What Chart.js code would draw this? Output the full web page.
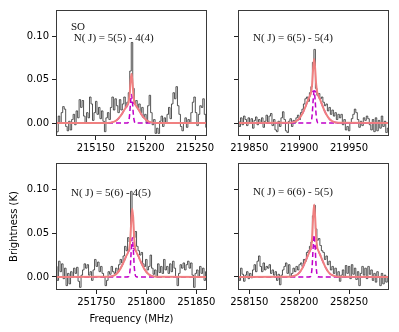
<!DOCTYPE html>
<html lang="en">
<head>
<meta charset="UTF-8">
<title>SO lines</title>
<script src="https://cdn.jsdelivr.net/npm/chart.js"></script>
<style>
  body { margin: 0; background: #fff; }
  #wrap { position: relative; width: 399px; height: 332px; }
  #wrap canvas { position: absolute; left: 0; top: 0; }
</style>
</head>
<body>
<div id="wrap">
  <canvas id="p1" width="399" height="332"></canvas>
  <canvas id="p2" width="399" height="332"></canvas>
  <canvas id="p3" width="399" height="332"></canvas>
  <canvas id="p4" width="399" height="332"></canvas>
</div>
<script>
// channel width of the spectra (MHz)
const CHAN_WIDTH = 1.5;

// ---- panel 1: 5(5)-4(4)
const spec1Start = 215110;
const spec1 = [-0.012, -0.01, 0.008, 0.0, 0.012, 0.019, 0.016, -0.004, -0.009, 0.002,
  -0.008, 0.004, 0.01, -0.002, 0.014, 0.006, 0.027, 0.018, 0.026, 0.008,
  0.0, 0.012, 0.006, 0.03, 0.022, 0.003, 0.012, 0.025, 0.01, 0.018,
  0.005, 0.014, 0.002, -0.01, 0.006, 0.012, 0.004, 0.018, 0.03, 0.015,
  0.028, 0.02, 0.012, 0.027, 0.015, 0.022, 0.03, 0.018, 0.024, 0.035,
  0.06, 0.093, 0.04, 0.022, 0.026, 0.018, 0.022, 0.012, 0.018, 0.006,
  0.01, 0.0, 0.02, 0.032, 0.012, -0.002, 0.004, -0.012, -0.006, -0.012,
  0.002, 0.008, -0.004, 0.006, 0.0, 0.01, 0.018, 0.005, 0.022, 0.035,
  0.028, 0.042, 0.02, 0.01, -0.004, -0.009, 0.0, 0.006, -0.005, 0.004,
  0.0, 0.012, 0.024, 0.03, 0.012, -0.003, 0.01, 0.02, 0.018, 0.028,
  0.01, -0.005];

// ---- panel 2: 6(5)-5(4)
const spec2Start = 219839;
const spec2 = [0.002, -0.004, 0.006, -0.002, 0.008, 0.004, -0.003, 0.006, 0.0, 0.005,
  -0.006, 0.003, 0.007, -0.002, 0.004, 0.0, 0.006, -0.005, 0.002, 0.009,
  0.001, 0.008, 0.011, -0.003, 0.004, -0.008, -0.01, 0.002, -0.004, 0.006,
  0.013, 0.004, -0.009, -0.011, 0.002, 0.005, -0.004, 0.003, 0.0, 0.006,
  0.009, 0.004, 0.012, 0.016, 0.022, 0.028, 0.03, 0.025, 0.035, 0.042,
  0.07, 0.085, 0.04, 0.032, 0.034, 0.028, 0.03, 0.024, 0.02, 0.022,
  0.014, 0.018, 0.01, 0.015, 0.008, 0.012, 0.004, 0.01, 0.006, 0.01,
  -0.002, 0.004, -0.008, -0.004, -0.009, 0.0, 0.005, 0.01, 0.016, 0.012,
  0.004, -0.005, 0.002, -0.003, 0.006, 0.003, 0.008, 0.005, -0.002, -0.008,
  0.004, -0.01, 0.006, -0.009, 0.003, -0.006, 0.008, -0.004, 0.002, -0.011,
  -0.006];

// ---- panel 3: 5(6)-4(5)
const spec3Start = 251710;
const spec3 = [0.012, -0.004, 0.018, 0.006, 0.015, -0.002, 0.01, -0.01, 0.004, -0.008,
  0.006, 0.0, 0.01, 0.004, 0.011, -0.005, -0.012, 0.002, 0.008, 0.015,
  0.01, 0.014, 0.002, 0.006, -0.004, 0.008, 0.02, 0.012, 0.017, 0.006,
  0.012, 0.004, 0.0, -0.01, -0.004, 0.006, 0.003, 0.012, 0.006, 0.004,
  0.01, 0.006, 0.014, 0.02, 0.016, 0.024, 0.035, 0.03, 0.045, 0.04,
  0.098, 0.07, 0.045, 0.052, 0.035, 0.03, 0.025, 0.028, 0.015, 0.012,
  0.02, 0.008, 0.012, 0.025, 0.01, 0.003, 0.008, 0.0, 0.015, 0.005,
  0.012, 0.004, 0.02, 0.008, 0.012, 0.004, 0.015, 0.006, 0.018, 0.01,
  0.0, -0.01, 0.004, 0.014, 0.01, 0.016, 0.008, 0.014, 0.018, 0.01,
  0.016, 0.002, -0.012, 0.004, 0.008, 0.0, 0.012, 0.004, 0.01, -0.004,
  0.006];

// ---- panel 4: 6(6)-5(5)
const spec4Start = 258139;
const spec4 = [0.0, -0.004, 0.01, 0.003, -0.005, 0.002, 0.006, -0.002, 0.004, -0.001,
  0.008, 0.014, 0.006, 0.018, 0.024, 0.012, 0.006, 0.016, 0.008, 0.012,
  0.01, 0.014, 0.004, 0.008, 0.002, 0.006, -0.004, 0.003, -0.009, 0.002,
  0.008, 0.012, 0.016, 0.004, 0.014, 0.0, 0.004, 0.01, 0.006, 0.012,
  0.008, 0.014, 0.016, 0.012, 0.02, 0.018, 0.028, 0.03, 0.035, 0.04,
  0.07, 0.082, 0.055, 0.042, 0.044, 0.036, 0.03, 0.028, 0.02, 0.024,
  0.014, 0.018, 0.008, 0.012, 0.004, 0.01, 0.0, 0.006, -0.005, 0.002,
  0.008, 0.0, 0.013, 0.004, 0.012, -0.002, 0.014, 0.003, 0.01, -0.003,
  0.006, -0.01, 0.004, 0.012, 0.002, 0.01, -0.002, 0.012, 0.003, 0.008,
  -0.004, 0.004, -0.006, 0.006, 0.0, -0.01, 0.004, -0.008, 0.002, -0.006,
  0.0];

// ---- fitted profiles, sampled at offsets (MHz) from each line centre
const fitOffsets = [-80, -24, -18, -15, -12, -10, -8, -6, -4, -3, -2, -1, 0,
  1, 2, 3, 4, 6, 8, 10, 12, 15, 18, 24, 80];

const centre1 = 215186;
const total1 = [0, 0.0001, 0.0013, 0.0032, 0.0067, 0.0099, 0.0136, 0.0174, 0.0209, 0.0237, 0.0314, 0.0471, 0.057,
  0.0471, 0.0314, 0.0237, 0.0209, 0.0174, 0.0136, 0.0099, 0.0067, 0.0032, 0.0013, 0.0001, 0];
const narrow1 = [0, 0, 0, 0, 0, 0, 0, 0, 0.0001, 0.0015, 0.0082, 0.0233, 0.033,
  0.0233, 0.0082, 0.0015, 0.0001, 0, 0, 0, 0, 0, 0, 0, 0];
const broad1 = [0, 0.0001, 0.0013, 0.0032, 0.0067, 0.0099, 0.0136, 0.0174, 0.0208, 0.0222, 0.0232, 0.0238, 0.024,
  0.0238, 0.0232, 0.0222, 0.0208, 0.0174, 0.0136, 0.0099, 0.0067, 0.0032, 0.0013, 0.0001, 0];

const centre2 = 219915;
const total2 = [0, 0.0002, 0.0021, 0.005, 0.0103, 0.0152, 0.0209, 0.0269, 0.0322, 0.0358, 0.0449, 0.0629, 0.074,
  0.0629, 0.0449, 0.0358, 0.0322, 0.0269, 0.0209, 0.0152, 0.0103, 0.005, 0.0021, 0.0002, 0];
const narrow2 = [0, 0, 0, 0, 0, 0, 0, 0, 0.0001, 0.0016, 0.0092, 0.0262, 0.037,
  0.0262, 0.0092, 0.0016, 0.0001, 0, 0, 0, 0, 0, 0, 0, 0];
const broad2 = [0, 0.0002, 0.0021, 0.005, 0.0103, 0.0152, 0.0209, 0.0269, 0.0321, 0.0342, 0.0357, 0.0367, 0.037,
  0.0367, 0.0357, 0.0342, 0.0321, 0.0269, 0.0209, 0.0152, 0.0103, 0.005, 0.0021, 0.0002, 0];

const centre3 = 251786;
const total3 = [0, 0.0002, 0.0018, 0.0045, 0.0092, 0.0136, 0.0187, 0.024, 0.0288, 0.0325, 0.043, 0.0645, 0.078,
  0.0645, 0.043, 0.0325, 0.0288, 0.024, 0.0187, 0.0136, 0.0092, 0.0045, 0.0018, 0.0002, 0];
const narrow3 = [0, 0, 0, 0, 0, 0, 0, 0, 0.0002, 0.002, 0.0112, 0.0318, 0.045,
  0.0318, 0.0112, 0.002, 0.0002, 0, 0, 0, 0, 0, 0, 0, 0];
const broad3 = [0, 0.0002, 0.0018, 0.0045, 0.0092, 0.0136, 0.0187, 0.024, 0.0286, 0.0305, 0.0318, 0.0327, 0.033,
  0.0327, 0.0318, 0.0305, 0.0286, 0.024, 0.0187, 0.0136, 0.0092, 0.0045, 0.0018, 0.0002, 0];

const centre4 = 258215;
const total4 = [0, 0.0002, 0.002, 0.0047, 0.0097, 0.0144, 0.0198, 0.0254, 0.0305, 0.0344, 0.0458, 0.0686, 0.083,
  0.0686, 0.0458, 0.0344, 0.0305, 0.0254, 0.0198, 0.0144, 0.0097, 0.0047, 0.002, 0.0002, 0];
const narrow4 = [0, 0, 0, 0, 0, 0, 0, 0, 0.0002, 0.0021, 0.012, 0.0339, 0.048,
  0.0339, 0.012, 0.0021, 0.0002, 0, 0, 0, 0, 0, 0, 0, 0];
const broad4 = [0, 0.0002, 0.002, 0.0047, 0.0097, 0.0144, 0.0198, 0.0254, 0.0303, 0.0323, 0.0338, 0.0347, 0.035,
  0.0347, 0.0338, 0.0323, 0.0303, 0.0254, 0.0198, 0.0144, 0.0097, 0.0047, 0.002, 0.0002, 0];

// axis ranges and ticks
const xRange1 = [215110, 215262];
const xRange2 = [219838.7, 219990];
const xRange3 = [251709.7, 251860.7];
const xRange4 = [258138.7, 258290];
const xTicks1 = [215150, 215200, 215250];
const xTicks2 = [219850, 219900, 219950];
const xTicks3 = [251750, 251800, 251850];
const xTicks4 = [258150, 258200, 258250];
const yRange = [-0.015, 0.1305];
const yTicks = [0, 0.05, 0.10];

const labels1 = ['SO', ' N( J) = 5(5) - 4(4)'];
const labels2 = ['N( J) = 6(5) - 5(4)'];
const labels3 = ['N( J) = 5(6) - 4(5)'];
const labels4 = ['N( J) = 6(6) - 5(5)'];

// frame around the plot box + the transition labels
const framePlugin = {
  id: 'frame',
  afterDraw(chart, args, opts) {
    const { ctx, chartArea: a } = chart;
    ctx.save();
    ctx.strokeStyle = '#3a3a3a';
    ctx.lineWidth = 1;
    ctx.strokeRect(a.left + 0.5, a.top + 0.5, a.right - a.left - 1, a.bottom - a.top - 1);
    ctx.fillStyle = '#111';
    ctx.font = '11px "Liberation Serif", "DejaVu Serif", serif';
    ctx.textBaseline = 'middle';
    opts.lines.forEach((t, i) => {
      ctx.fillText(t, a.left + opts.dx, a.top + opts.dy + i * 11);
    });
    ctx.restore();
  }
};

function chan(start, vals) {
  return vals.map((v, i) => ({ x: start + i * CHAN_WIDTH, y: v }));
}
function fit(centre, vals) {
  return vals.map((v, i) => ({ x: centre + fitOffsets[i], y: v }));
}

function makePanel(id, box, xRange, xTicks, spec, specStart, centre, total, narrow, broad, lines, dy, showY, titles) {
  const tickFont = { family: 'DejaVu Sans', size: 10 };
  const xh = titles ? 37 : 30;
  new Chart(document.getElementById(id), {
    type: 'line',
    data: {
      datasets: [
        { data: fit(centre, total), borderColor: '#f08080', borderWidth: 2,
          cubicInterpolationMode: 'monotone', pointRadius: 0 },
        { data: fit(centre, narrow), borderColor: '#c000c8', borderWidth: 1.5, borderDash: [5, 3],
          cubicInterpolationMode: 'monotone', pointRadius: 0 },
        { data: fit(centre, broad), borderColor: '#c000c8', borderWidth: 1.5, borderDash: [5, 3],
          cubicInterpolationMode: 'monotone', pointRadius: 0 },
        { data: chan(specStart, spec), borderColor: 'rgba(40,40,40,0.8)', borderWidth: 1,
          stepped: 'middle', pointRadius: 0 }
      ]
    },
    options: {
      responsive: false,
      animation: false,
      layout: { padding: { left: 0, top: box.t, right: 399 - box.r, bottom: 332 - box.b - xh } },
      plugins: {
        legend: { display: false },
        tooltip: { enabled: false },
        frame: { lines: lines, dx: 15, dy: dy }
      },
      scales: {
        x: {
          type: 'linear', min: xRange[0], max: xRange[1],
          afterBuildTicks: s => { s.ticks = xTicks.map(v => ({ value: v })); },
          afterFit: s => { s.height = xh; },
          grid: { drawOnChartArea: false, tickLength: 4, tickColor: '#222' },
          border: { display: false },
          ticks: { autoSkip: false, maxRotation: 0, padding: 2,
            color: '#000', font: tickFont, callback: v => String(v) },
          title: { display: !!titles, text: 'Frequency (MHz)', color: '#000',
            font: { family: 'DejaVu Sans', size: 10 }, padding: { top: 4, bottom: 2 } }
        },
        y: {
          min: yRange[0], max: yRange[1],
          afterBuildTicks: s => { s.ticks = yTicks.map(v => ({ value: v })); },
          afterFit: s => { s.width = box.l; },
          grid: { drawOnChartArea: false, tickLength: 4, tickColor: '#222' },
          border: { display: false },
          ticks: { padding: 3, color: '#000', font: tickFont,
            callback: v => showY ? v.toFixed(2) : '' },
          title: { display: !!titles, text: 'Brightness (K)', color: '#000',
            font: { family: 'DejaVu Sans', size: 10 }, padding: { top: 8, bottom: 0 } }
        }
      }
    },
    plugins: [framePlugin]
  });
}

makePanel('p1', { l: 56, t: 10, r: 207, b: 136 }, xRange1, xTicks1, spec1, spec1Start, centre1,
  total1, narrow1, broad1, labels1, 17, true, false);
makePanel('p2', { l: 238, t: 10, r: 389, b: 136 }, xRange2, xTicks2, spec2, spec2Start, centre2,
  total2, narrow2, broad2, labels2, 28, false, false);
makePanel('p3', { l: 56, t: 163, r: 207, b: 290 }, xRange3, xTicks3, spec3, spec3Start, centre3,
  total3, narrow3, broad3, labels3, 30, true, true);
makePanel('p4', { l: 238, t: 163, r: 389, b: 290 }, xRange4, xTicks4, spec4, spec4Start, centre4,
  total4, narrow4, broad4, labels4, 29, false, false);
</script>
</body>
</html>
